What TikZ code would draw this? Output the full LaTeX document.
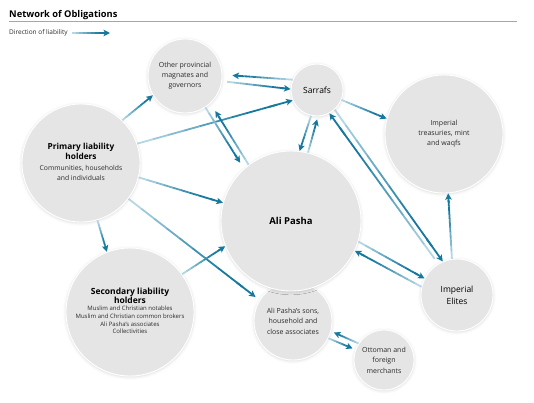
\documentclass[tikz,border=0pt]{standalone}
\usepackage{fontspec}
\setmainfont{Open Sans}
\usepackage{xcolor}
\usepackage{tikz}
\usetikzlibrary{arrows.meta}
\usetikzlibrary{calc}
\usetikzlibrary{shadows.blur}

\definecolor{liabdark}{HTML}{17789E}
\definecolor{liablight}{HTML}{B3D7E4}
\definecolor{bubblefill}{HTML}{E5E5E5}
\definecolor{textgray}{HTML}{2B2B2B}

% arrow of liability: from #1 to #2, shortened by #3 at the start and #4 at the tip
\newcommand{\liab}[4]{%
  \coordinate (ls) at ($(#1)!#3!(#2)$);
  \coordinate (le) at ($(#2)!#4!(#1)$);
  \foreach \k in {0,...,8} {
    \pgfmathtruncatemacro\liabmix{min(100,15*\k)}
    \draw[liabline, liabdark!\liabmix!liablight] ($(ls)!\k/10!(le)$) -- ($(ls)!\k/10+0.1!(le)$);
  }
  \draw[liabline, liabdark, -{Stealth[length=6.5pt,width=6.5pt,inset=1.5pt]}] ($(ls)!0.85!(le)$) -- (le);
}

\begin{document}
\begin{tikzpicture}[x=1pt, y=-1pt,
    bubble/.style={circle, fill=bubblefill, draw=white, line width=0.9pt, inner sep=0pt,
      align=center, text=textgray,
      blur shadow={shadow xshift=0pt, shadow yshift=-0.8pt, shadow blur radius=3pt, shadow opacity=16}},
    liabline/.style={line width=1.8pt}]
        \useasboundingbox (0,0) rectangle (534,402);

        % heading and legend
        \node[anchor=base west, inner sep=0pt, font=\bfseries\fontsize{9.3}{11}\selectfont] (title) at (9,17) {Network of Obligations};
        \draw[black!35, line width=0.9pt] (9,21) -- (517,21);
        \node[anchor=west, inner sep=1pt, text=textgray, font=\fontsize{6.5}{7}\selectfont] (legend) at (8,33) {Direction of liability};
        \coordinate (lg) at (110,33);

        % the circles
        \node[bubble, minimum size=74pt, font=\fontsize{7}{10}\selectfont] (opm) at (185,76) {Other provincial\\magnates and\\governors};
        \node[bubble, minimum size=52pt, text=black, font=\fontsize{8.5}{10}\selectfont] (sar) at (317,90) {Sarrafs};
        \node[bubble, minimum size=118pt, font=\fontsize{7}{10}\selectfont] (tre) at (444,134) {Imperial\\treasuries, mint\\and waqfs};
        \node[bubble, minimum size=118pt, font=\fontsize{6.8}{10}\selectfont] (pri) at (81,163) {%
            \begin{tabular}{@{}c@{}}
            \color{black}\bfseries\fontsize{8.3}{10}\selectfont Primary liability\\
            \color{black}\bfseries\fontsize{8.3}{10}\selectfont holders\\[1pt]
            Communities, households\\
            and individuals
            \end{tabular}};
        \node[bubble, minimum size=78pt, font=\fontsize{7}{10.5}\selectfont] (son) at (293,321) {Ali Pasha's sons,\\household and\\close associates};
        \node[bubble, minimum size=140pt, text=black, font=\bfseries\fontsize{9.5}{11}\selectfont] (ali) at (291,221) {Ali Pasha};
        \node[bubble, minimum size=72pt, text=black, font=\fontsize{8.5}{12}\selectfont] (eli) at (457,295) {Imperial\\Elites};
        \node[bubble, minimum size=60pt, font=\fontsize{7}{10.5}\selectfont] (ott) at (384,360) {Ottoman and\\foreign\\merchants};
        \node[bubble, minimum size=128pt, font=\fontsize{6}{7.7}\selectfont] (sec) at (130,312) {%
            \begin{tabular}{@{}c@{}}
            \color{black}\bfseries\fontsize{8.5}{10}\selectfont Secondary liability\\
            \color{black}\bfseries\fontsize{8.5}{10}\selectfont holders\\
            Muslim and Christian notables\\
            Muslim and Christian common brokers\\
            Ali Pasha's associates\\
            Collectivities
            \end{tabular}};

        % direction of liability
        \liab{legend.east}{lg}{3pt}{0pt}
        \liab{pri.46}{opm.211}{0pt}{0pt}
        \liab{pri.19}{sar.203}{0pt}{0pt}
        \liab{pri.-14}{ali.165}{0pt}{0pt}
        \liab{pri.-74}{sec.111}{0pt}{0pt}
        \liab{pri.-37}{son.148}{0pt}{5pt}
        \liab{sec.36}{ali.201}{0pt}{0pt}
        \liab{sar.157}{opm.2}{0pt}{10pt}
        \liab{opm.-8}{sar.178}{5pt}{0pt}
        \liab{opm.-57}{ali.132}{0pt}{7pt}
        \liab{ali.127}{opm.-47}{0pt}{9pt}
        \liab{sar.-103}{ali.83}{0pt}{0pt}
        \liab{ali.76}{sar.-88}{0pt}{3pt}
        \liab{sar.-22}{tre.165}{0pt}{0pt}
        \liab{sar.-48}{eli.113}{0pt}{0pt}
        \liab{eli.121}{sar.-62}{6pt}{0pt}
        \liab{eli.98}{tre.-86}{0pt}{0pt}
        \liab{ali.-17}{eli.153}{0pt}{0pt}
        \liab{eli.167}{ali.-25}{0pt}{0pt}
        \liab{ott.147}{son.-15}{0pt}{3pt}
        \liab{son.-26}{ott.160}{0pt}{3pt}
\end{tikzpicture}
\end{document}
